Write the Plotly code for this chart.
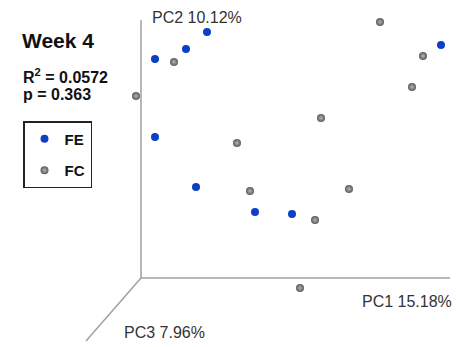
import plotly.graph_objects as go

# Projected ordination coordinates (screen-space units)
fe_x = [207, 186, 155, 155, 196, 255, 292, 441]
fe_y = [32, 49, 59, 137, 187, 212, 214, 45]
fc_x = [380, 423, 412, 321, 237, 250, 349, 174, 136, 315, 300]
fc_y = [22, 56, 87, 118, 143, 191, 189, 62, 96, 220, 288]

groups = ["FE", "FC"]
axis_labels = ["PC1 15.18%", "PC2 10.12%", "PC3 7.96%"]
title_text = "Week 4"
r2_text = "R<sup>2</sup> = 0.0572"
p_text = "p = 0.363"

W, H = 457, 347
FONT = "Liberation Sans, Arial, sans-serif"

fig = go.Figure()
fig.add_trace(go.Scatter(
    x=fe_x, y=fe_y, mode="markers", name=groups[0], legendgroup="a",
    marker=dict(size=8, color="#0b3fc8", line=dict(width=0)),
))
fig.add_trace(go.Scatter(
    x=fc_x, y=fc_y, mode="markers", name=groups[1], legendgroup="b",
    marker=dict(size=8, color="#5a5a5a", line=dict(width=0),
                gradient=dict(type="radial", color="#b4b4b4")),
))

origin = (141, 278)
ax_col = "#a0a0a0"
fig.add_shape(type="line", x0=origin[0], y0=origin[1], x1=450, y1=origin[1],
              line=dict(color=ax_col, width=1.5), layer="below")
fig.add_shape(type="line", x0=origin[0], y0=origin[1], x1=origin[0], y1=20,
              line=dict(color=ax_col, width=1.5), layer="below")
fig.add_shape(type="line", x0=origin[0], y0=origin[1], x1=86, y1=341,
              line=dict(color=ax_col, width=1.5), layer="below")

ann = [
    dict(x=150, y=17, text=axis_labels[1], xanchor="left", size=16, color="#333333"),
    dict(x=454, y=301, text=axis_labels[0], xanchor="right", size=16, color="#333333"),
    dict(x=122, y=332, text=axis_labels[2], xanchor="left", size=16, color="#333333"),
    dict(x=20, y=40, text="<b>" + title_text + "</b>", xanchor="left", size=21, color="#111111"),
    dict(x=21, y=76, text="<b>" + r2_text + "</b>", xanchor="left", size=16, color="#111111"),
    dict(x=21, y=94, text="<b>" + p_text + "</b>", xanchor="left", size=16, color="#111111"),
]
for a in ann:
    fig.add_annotation(x=a["x"], y=a["y"], xref="x", yref="y", text=a["text"],
                       showarrow=False, xanchor=a["xanchor"], yanchor="middle",
                       font=dict(family=FONT, size=a["size"], color=a["color"]))

fig.update_layout(
    width=W, height=H,
    margin=dict(l=0, r=0, t=0, b=0),
    paper_bgcolor="white", plot_bgcolor="white",
    xaxis=dict(range=[0, W], visible=False, fixedrange=True),
    yaxis=dict(range=[H, 0], visible=False, fixedrange=True),
    showlegend=True,
    legend=dict(
        x=23 / W, y=1 - 121 / H, xanchor="left", yanchor="top",
        bordercolor="#222222", borderwidth=1.5, bgcolor="white",
        font=dict(family=FONT, size=15, color="#111111", weight="bold"),
        tracegroupgap=9, itemwidth=30,
    ),
)

fig.write_html("out.html")
